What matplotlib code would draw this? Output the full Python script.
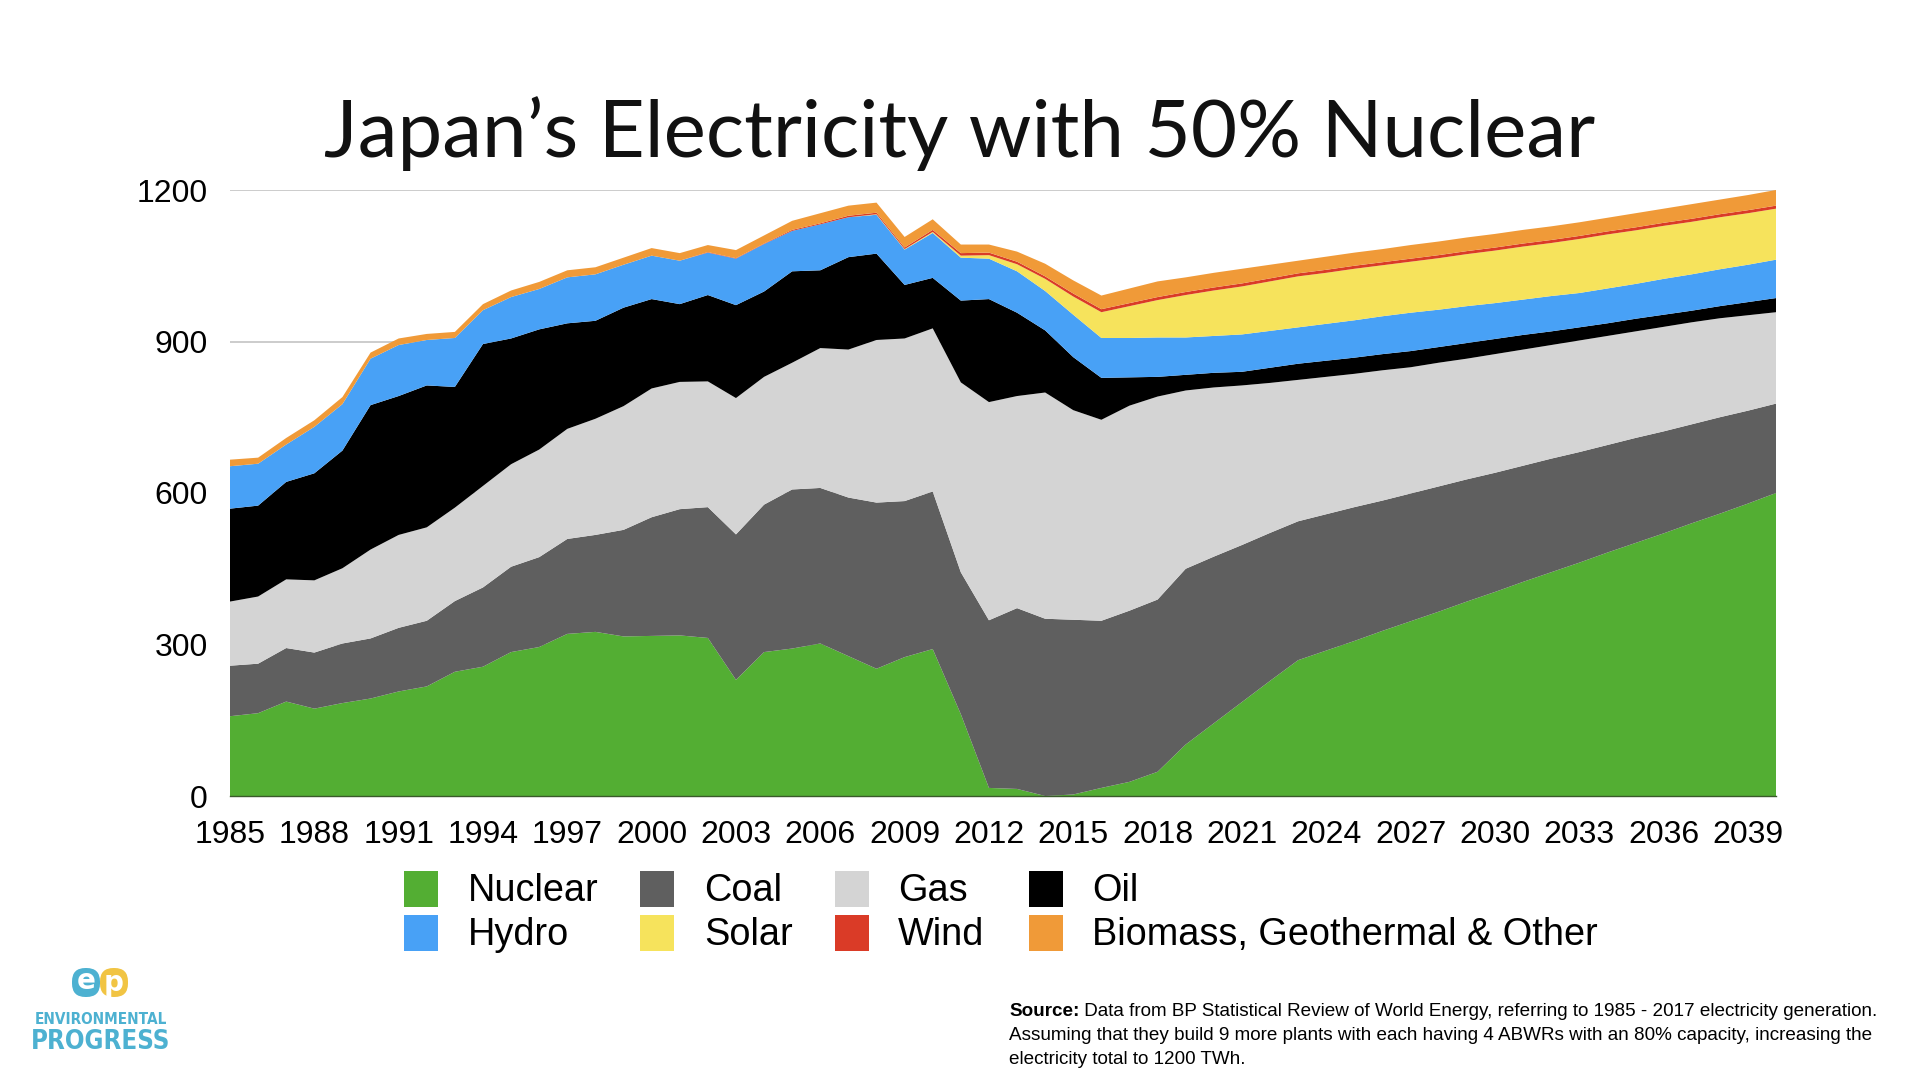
import matplotlib
matplotlib.use("Agg")
import matplotlib.pyplot as plt
from matplotlib.patches import Rectangle, FancyBboxPatch
import numpy as np

years = list(range(1985, 2041))

nuclear = [158, 164, 187, 173, 184, 193, 207, 217, 246, 256, 285, 295, 321, 325, 316, 317, 318, 313,
           230, 285, 292, 302, 277, 252, 275, 291, 162, 16, 14, 0, 3, 16, 28, 48,
           102, 144, 186, 228, 269, 288, 307, 327, 346, 365, 385, 404, 424, 443, 462, 482, 501, 520,
           540, 559, 579, 600]
coal = [100, 98, 106, 111, 118, 119, 126, 130, 140, 157, 169, 178, 188, 192, 211, 235, 250, 259,
        288, 292, 315, 308, 314, 329, 309, 312, 281, 332, 358, 351, 346, 331, 339, 341,
        348, 330, 311, 293, 275, 270, 265, 258, 253, 248, 242, 236, 230, 225, 219, 213, 208, 202,
        196, 191, 184, 177]
gas = [127, 133, 136, 143, 149, 176, 184, 185, 185, 201, 203, 213, 218, 230, 245, 255, 252, 249,
       270, 253, 251, 277, 293, 322, 322, 323, 376, 432, 420, 448, 415, 398, 406, 402,
       353, 335, 316, 297, 280, 272, 264, 258, 250, 245, 239, 235, 230, 225, 221, 216, 211, 207,
       202, 196, 189, 181]
oil = [184, 180, 193, 212, 233, 286, 275, 281, 239, 281, 249, 238, 209, 194, 195, 177, 154, 171,
       184, 169, 181, 154, 183, 171, 106, 100, 162, 204, 165, 123, 105, 83, 56, 39,
       31, 29, 27, 30, 32, 32, 32, 32, 32, 31, 31, 30, 29, 27, 26, 25, 25, 24,
       23, 24, 26, 28]
hydro = [84, 83, 74, 92, 92, 92, 101, 90, 97, 67, 82, 80, 91, 92, 85, 86, 86, 84,
         92, 94, 80, 91, 79, 77, 70, 89, 85, 80, 82, 78, 84, 79, 78, 78,
         74, 73, 74, 73, 72, 73, 74, 75, 76, 74, 73, 71, 70, 70, 68, 69, 69, 71,
         72, 73, 74, 76]
solar = [0] * 23 + [1, 1, 2, 4, 7, 14, 24, 36, 51, 63, 74,
                    84, 90, 95, 98, 101, 101, 102, 101, 101, 102, 103, 104, 105, 105, 107, 107, 106, 105,
                    104, 103, 102, 101]
wind = [0] * 17 + [1, 1, 1, 2, 2, 3, 3, 3, 4, 5, 5, 5, 5, 6, 6, 6, 6,
                   6, 6, 6, 6, 6, 6, 6, 6, 6, 6, 6, 6, 6, 6, 6, 6, 6, 6,
                   6, 6, 6, 6]
other = [13, 12, 13, 13, 14, 12, 13, 12, 12, 12, 13, 14, 14, 14, 14, 15, 15, 14,
         16, 16, 18, 20, 20, 20, 21, 21, 17, 16, 20, 25, 26, 27, 29, 31,
         29, 29, 29, 27, 25, 26, 26, 26, 27, 27, 27, 27, 27, 27, 27, 27, 28, 28,
         29, 29, 30, 31]

series_names = ["Nuclear", "Coal", "Gas", "Oil", "Hydro", "Solar", "Wind", "Biomass, Geothermal & Other"]
colors = ["#53AE33", "#5F5F5F", "#D4D4D4", "#000000", "#48A1F6", "#F6E35C", "#DA3B27", "#F09A38"]
yticks = [0, 300, 600, 900, 1200]
xticks = list(range(1985, 2040, 3))

title = "Japan\u2019s Electricity with 50% Nuclear"
source_bold = "Source:"
source_lines = [" Data from BP Statistical Review of World Energy, referring to 1985 - 2017 electricity generation.",
                "Assuming that they build 9 more plants with each having 4 ABWRs with an 80% capacity, increasing the",
                "electricity total to 1200 TWh."]

W, H = 1920, 1080
def fx(x): return x / W
def fy(y): return 1 - y / H

fig = plt.figure(figsize=(19.2, 10.8), dpi=100)
fig.patch.set_facecolor("white")
ax = fig.add_axes([fx(230), fy(796), fx(1776) - fx(230), fy(190) - fy(796)])

ax.stackplot(years, nuclear, coal, gas, oil, hydro, solar, wind, other,
             colors=colors, linewidth=0, antialiased=True)
ax.set_xlim(1985, 2040)
ax.set_ylim(0, 1200)
ax.set_yticks(yticks)
ax.set_xticks(xticks)
ax.set_axisbelow(True)
ax.yaxis.grid(True, color="#C4C4C4", linewidth=1.2)
ax.xaxis.grid(False)
for s in ["top", "right", "left"]:
    ax.spines[s].set_visible(False)
ax.spines["bottom"].set_color("#3a5a2a")
ax.spines["bottom"].set_linewidth(1.0)
ax.tick_params(axis="both", length=0, labelsize=23)
ax.tick_params(axis="y", pad=16)
ax.tick_params(axis="x", pad=17)
for lab in ax.get_xticklabels() + ax.get_yticklabels():
    lab.set_fontfamily("Liberation Sans")

fig.text(0.5, fy(134), title, ha="center", va="center", fontsize=57.5, fontfamily="Lato", color="#111111")

# legend (manual grid)
patch_x = [404, 640, 835, 1029]
text_x = [468, 704, 898, 1092]
row_y = [889, 933]
for i, (name, col) in enumerate(zip(series_names, colors)):
    r, c = divmod(i, 4)
    yc = row_y[r]
    rect = Rectangle((fx(patch_x[c]), fy(yc + 18)), 34 / W, 36 / H, transform=fig.transFigure,
                     facecolor=col, edgecolor="none")
    fig.patches.append(rect)
    fig.text(fx(text_x[c]), fy(yc + 2), name, ha="left", va="center", fontsize=27.3,
             fontfamily="Liberation Sans", color="black")

# source text
renderer = fig.canvas.get_renderer()
fs = 13.6
t0 = fig.text(fx(1009), fy(1011), source_bold, ha="left", va="center", fontsize=fs,
              fontfamily="Liberation Sans", fontweight="bold")
bb = t0.get_window_extent(renderer=renderer)
fig.text(fx(1009) + bb.width / W, fy(1011), source_lines[0], ha="left", va="center", fontsize=fs,
         fontfamily="Liberation Sans")
fig.text(fx(1009), fy(1035), source_lines[1], ha="left", va="center", fontsize=fs,
         fontfamily="Liberation Sans")
fig.text(fx(1009), fy(1059), source_lines[2], ha="left", va="center", fontsize=fs,
         fontfamily="Liberation Sans")

# logo
blue = "#4DB1D1"
yellow = "#F1C443"
lb = FancyBboxPatch((fx(72), fy(997)), 28 / W, 29 / H, boxstyle="round,pad=0,rounding_size=0.007",
                    transform=fig.transFigure, facecolor=blue, edgecolor="none", mutation_aspect=W / H)
ly = FancyBboxPatch((fx(100), fy(997)), 28 / W, 29 / H, boxstyle="round,pad=0,rounding_size=0.007",
                    transform=fig.transFigure, facecolor=yellow, edgecolor="none", mutation_aspect=W / H)
fig.patches.extend([lb, ly])
fig.text(fx(86), fy(981), "e", ha="center", va="center", fontsize=20, color="white", fontweight="bold",
         fontfamily="DejaVu Sans")
fig.text(fx(114), fy(983), "p", ha="center", va="center", fontsize=20, color="white", fontweight="bold",
         fontfamily="DejaVu Sans")
fig.text(fx(101), fy(1020), "ENVIRONMENTAL", ha="center", va="center", fontsize=11, color=blue,
         fontweight="bold", fontfamily="DejaVu Sans", fontstretch="condensed")
fig.text(fx(101), fy(1042), "PROGRESS", ha="center", va="center", fontsize=18.5, color=blue,
         fontweight="bold", fontfamily="DejaVu Sans", fontstretch="condensed")

fig.savefig("out.png", dpi=100, facecolor="white")
